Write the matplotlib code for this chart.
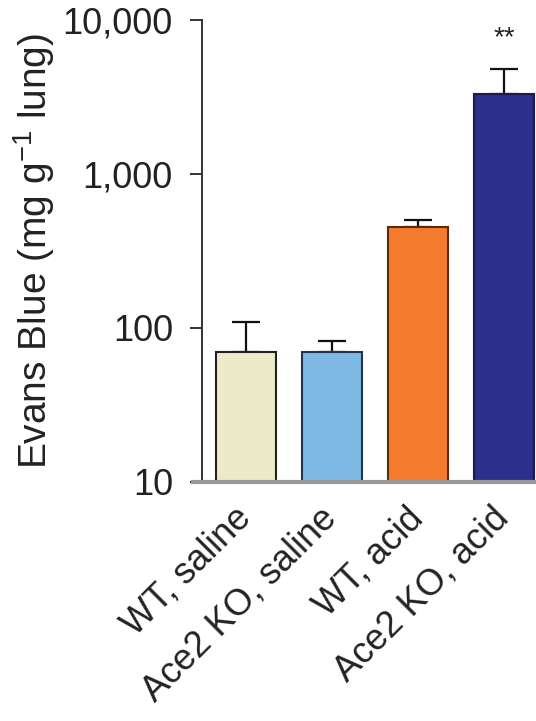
import matplotlib
matplotlib.use('Agg')
import matplotlib.pyplot as plt
import matplotlib.transforms as mtransforms
import numpy as np

# Data
groups = ['WT, saline', 'Ace2 KO, saline', 'WT, acid', 'Ace2 KO, acid']
means = [70, 70, 453, 3300]
errors_up = [39, 12, 51, 1500]
bar_colors = ['#ECEBC8', '#7DB9E2', '#F47B2C', '#2D2E8E']
edge_colors = ['#222222', '#1F3550', '#5A2A10', '#1A1A50']
y_ticks = [10, 100, 1000, 10000]
y_tick_labels = ['10', '100', '1,000', '10,000']
significance = ['', '', '', '**']

plt.rcParams['font.family'] = ['Liberation Sans', 'DejaVu Sans']
plt.rcParams['mathtext.fontset'] = 'custom'
plt.rcParams['mathtext.rm'] = 'Liberation Sans'
plt.rcParams['mathtext.it'] = 'Liberation Sans'

fig = plt.figure(figsize=(5.36, 7.21), dpi=100)
ax = fig.add_axes([0.377, 0.3315, 0.623, 0.6408])

x = np.arange(len(groups))
ax.bar(x, means, width=0.70, color=bar_colors, edgecolor=edge_colors,
       linewidth=1.5, zorder=2)
ax.errorbar(x, means, yerr=[np.zeros(len(means)), errors_up], fmt='none',
            ecolor='#111111', elinewidth=1.6, capsize=10, capthick=1.6, zorder=1)

# significance stars above the bars
for xi, s in zip(x, significance):
    if s:
        ax.text(xi, 7600, s, ha='center', va='center', fontsize=20, color='#222222')

ax.set_yscale('log')
ax.set_ylim(10, 10000)
ax.set_xlim(-0.512, 3.37)
ax.set_yticks(y_ticks)
ax.set_yticklabels(y_tick_labels, fontsize=26, color='#222222')
ax.yaxis.set_minor_locator(matplotlib.ticker.NullLocator())
ax.tick_params(axis='y', direction='out', length=9, width=1.4, color='#333333', pad=12)

ax.set_xticks(x)
ax.set_xticklabels(groups, rotation=45, ha='right', rotation_mode='anchor',
                   fontsize=26, color='#222222')
ax.tick_params(axis='x', length=0, pad=12)
shift = mtransforms.ScaledTranslation(-0.13, -0.02, fig.dpi_scale_trans)
for lbl in ax.get_xticklabels():
    lbl.set_transform(lbl.get_transform() + shift)

ax.set_ylabel(r'Evans Blue (mg g$^{-1}$ lung)', fontsize=28, color='#222222', labelpad=4)

for side in ['top', 'right']:
    ax.spines[side].set_visible(False)
ax.spines['left'].set_color('#333333')
ax.spines['left'].set_linewidth(1.4)
ax.spines['bottom'].set_color('#999999')
ax.spines['bottom'].set_linewidth(3)
ax.spines['bottom'].set_bounds(-0.62, 3.37)

fig.savefig('out.png', dpi=100)
